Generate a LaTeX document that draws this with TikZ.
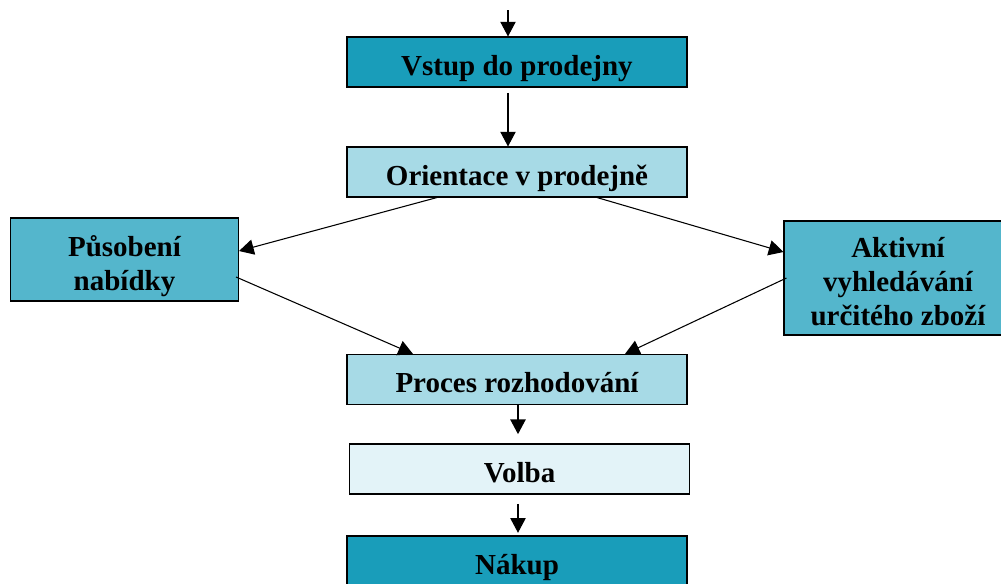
\documentclass[tikz,border=0pt]{standalone}
\usepackage{fontspec}
\setmainfont{Liberation Serif}
\usetikzlibrary{arrows.meta}

\definecolor{tealdark}{HTML}{199DBA}
\definecolor{tealmid}{HTML}{54B6CC}
\definecolor{teallight}{HTML}{A7DAE6}
\definecolor{tealpale}{HTML}{E3F3F8}

\tikzset{
  box/.style={draw, line width=0.8pt, align=center, inner sep=0pt,
    minimum width=255pt, minimum height=37.5pt,
    text height=19.5pt, text depth=0pt,
    font=\fontsize{21.75}{25.5}\selectfont\bfseries},
  sidebox/.style={box, fill=tealmid, minimum width=171pt},
  arr/.style={-{Triangle[length=11pt,width=11.5pt]}, line width=0.8pt}
}

\begin{document}
\begin{tikzpicture}[x=0.75pt, y=-0.75pt]
   \useasboundingbox (0,0) rectangle (1001,583);

   \coordinate (start) at (508,10);
   \node[box, fill=tealdark] (vstup) at (517,62) {Vstup do prodejny};
   \node[box, fill=teallight] (orient) at (517,172) {Orientace v prodejně};
   \node[sidebox, minimum height=62.25pt, text height=45.75pt] (pusobeni) at (124.5,259.5) {Působení\\nabídky};
   \node[sidebox, minimum height=85.5pt, text height=70.5pt] (aktivni) at (898,278) {Aktivní\\vyhledávání\\určitého zboží};
   \node[box, fill=teallight] (proces) at (517,379.5) {Proces rozhodování};
   \node[box, fill=tealpale] (volba) at (519.5,469) {Volba};
   \node[box, fill=tealdark] (nakup) at (517,561) {Nákup};

   \draw[arr] (start) -- (start |- vstup.north);
   \draw[arr, shorten <=4pt] (vstup.south -| start) -- (orient.north -| start);
   \draw[arr] ([shift={(-80,0)}]orient.south) -- ([shift={(0,-8.5)}]pusobeni.east);
   \draw[arr] ([shift={(80,0)}]orient.south) -- ([shift={(0,-26)}]aktivni.west);
   \draw[arr] ([shift={(-3,17.5)}]pusobeni.east) -- ([shift={(-104,0)}]proces.north);
   \draw[arr] ([shift={(3,0)}]aktivni.west) -- ([shift={(108,0)}]proces.north);
   \draw[arr, shorten >=7pt] ([shift={(1,0)}]proces.south) -- ([shift={(-1.5,0)}]volba.north);
   \draw[arr, shorten <=7pt, shorten >=2pt] ([shift={(-1.5,0)}]volba.south) -- ([shift={(1,0)}]nakup.north);
\end{tikzpicture}
\end{document}
